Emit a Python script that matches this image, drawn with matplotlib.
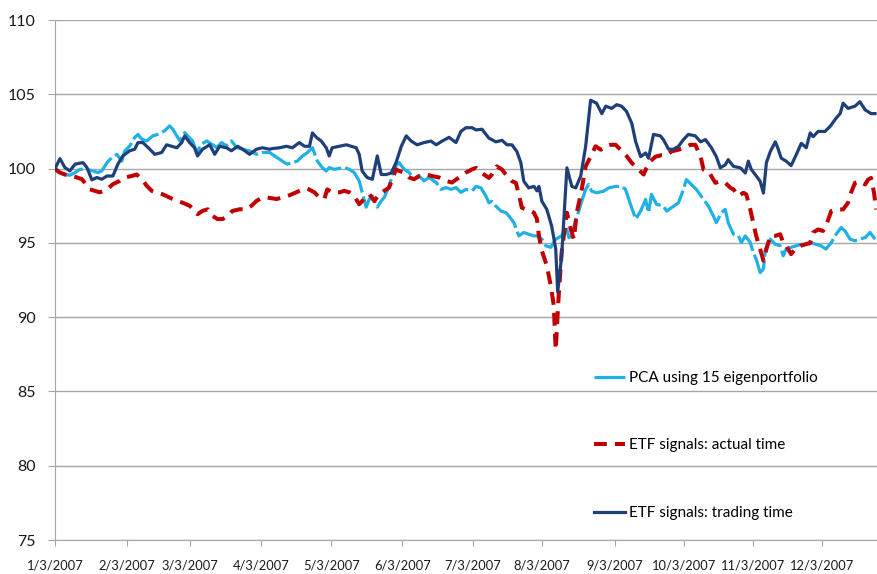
import matplotlib.pyplot as plt

# trading days since 1/3/2007 and index level
pca_days = [0, 1.5, 3.0, 4.5, 6.1, 7.6, 9.7, 11.5, 13.0, 14.2, 15.8, 17.3, 18.8, 20.3, 21.2,
            22.7, 24.2, 25.2, 26.4, 27.9, 29.7, 31.2, 33.3, 34.8, 35.8, 37.9, 39.4, 40.3, 41.8,
            43.0, 44.5, 46.1, 47.6, 49.1, 50.6, 52.1, 53.6, 55.2, 57.0, 59.1, 61.2, 63.0,
            65.2, 66.7, 68.2, 69.7, 70.6, 73.6, 75.2, 76.7, 78.2, 79.7, 81.2, 82.4, 83.3, 84.8,
            87.9, 89.4, 90.9, 92.4, 93.3, 94.5, 95.5, 96.4, 97.9, 99.1, 100.0, 101.5, 102.4,
            103.6, 104.5, 106.1, 107.6, 109.1, 110.6, 112.1, 113.6, 115.8, 117.3, 118.8, 120.3,
            121.8, 123.3, 124.8, 126.7,
            127.9, 129.4, 130.9, 131.8, 132.7, 133.9, 135.5, 137.0, 137.9, 139.4, 140.9, 142.4,
            143.9, 145.5, 146.4, 147.9, 149.1, 150.6, 152.1, 153.9, 155.2, 156.1, 157.0, 158.2,
            159.1, 160.0, 161.2, 162.1, 163.0, 164.5, 166.7, 168.2, 170.3, 172.1, 173.3, 174.8,
            176.4, 177.9, 179.4, 180.3, 181.2, 182.7,
            184.8, 185.8, 187.3, 189.4, 190.9, 191.8, 193.3, 194.8, 197.0, 198.5, 200.0, 200.9,
            202.4, 203.6, 204.5, 206.1, 207.6, 208.5, 209.7, 211.2, 212.1, 213.0, 214.2, 215.2,
            215.8, 217.3, 218.8, 220.3, 221.2, 222.1, 223.6, 225.2, 226.7, 228.2, 229.7, 231.2,
            232.7, 234.2, 235.8, 237.3, 238.8, 240.0, 241.5, 243.0, 244.5, 246.1, 247.6, 249.1]
pca_vals = [100.07, 99.73, 99.6, 99.55, 99.73, 99.95, 99.95, 99.84, 99.73, 99.84, 100.4, 100.74,
            100.96, 100.5, 101.19, 101.52, 102.09, 102.3, 101.97, 101.86, 102.2, 102.3, 102.54,
            102.87, 102.65, 101.86, 102.42, 102.2, 101.86, 101.08, 101.64, 101.86, 101.64, 101.41,
            101.75, 101.53, 101.86, 101.41, 101.3, 101.19, 100.96, 101.08,
            101.08, 100.85, 100.63, 100.4, 100.3, 100.5, 100.85, 101.08, 101.41, 100.5, 100.07,
            99.84, 100.07, 99.95, 100.07, 99.95, 99.73, 99.17, 98.4, 97.4, 97.95, 98.16, 97.4,
            97.82, 98.05, 98.83, 99.5, 100.18, 100.4, 99.95, 99.73, 99.28, 99.5, 99.17, 99.4,
            99.06, 98.6, 98.72, 98.6, 98.72, 98.4, 98.6, 98.5,
            98.8, 98.7, 98.15, 97.7, 97.8, 97.47, 97.14, 97.03, 96.8, 96.36, 95.47, 95.7, 95.58,
            95.47, 95.47, 95.25, 94.8, 94.7, 95.25, 95.47, 96.14, 95.35, 95.47, 96.6, 97.14, 97.8,
            98.6, 98.93, 98.48, 98.37, 98.48, 98.7, 98.8, 98.8, 98.6, 97.6, 96.6, 97.14, 97.92,
            97.03, 98.26, 97.6,
            97.47, 97.14, 97.37, 97.7, 98.6, 99.26, 98.93, 98.6, 97.92, 97.47, 96.8, 96.36, 97.03,
            97.25, 96.36, 95.58, 95.47, 95.02, 95.47, 95.02, 94.35, 93.9, 93.0, 93.24, 94.58,
            95.25, 94.9, 94.8, 94.13, 94.58, 94.7, 94.8, 94.9, 94.8, 95.0, 94.9, 94.8, 94.58,
            95.02, 95.58, 96.03, 95.8, 95.25, 95.14, 95.25, 95.36, 95.7, 95.25]

actual_days = [0, 1.5, 3.0, 5.2, 6.7, 8.2, 10.6, 12.1, 13.6, 15.8, 17.6, 19.7, 21.2, 23.3, 24.8,
               26.4, 27.9, 29.4, 30.9, 32.7, 34.8, 37.0, 38.8, 40.9, 42.4, 43.3, 44.8, 46.4, 47.9,
               49.4, 50.9, 52.4, 53.9, 56.1, 58.2, 59.7, 61.2, 63.0,
               64.5, 67.3, 69.1, 71.2, 73.3, 75.2, 76.7, 78.8, 80.3, 81.8, 82.7, 84.2, 86.4, 87.9,
               89.4, 90.9, 92.4, 93.9, 95.5, 97.0, 98.5, 100.0, 101.5, 102.4, 103.6, 104.5, 106.1,
               107.6, 109.1, 110.6, 112.7, 114.5, 116.7, 118.8, 120.6, 122.7, 124.8, 126.7,
               127.9, 129.7, 131.8, 132.7, 134.2, 135.8, 137.3, 138.8, 140.0, 140.9, 141.8, 143.0,
               144.5, 145.5, 146.4, 147.0, 147.9, 149.4, 150.6, 151.5, 152.1, 153.0, 153.9, 155.5,
               156.7, 157.6, 158.5, 160.0, 161.2, 162.7, 164.2, 165.8, 167.3, 168.8, 170.3, 171.8,
               173.3, 175.2, 177.3, 178.8, 179.7, 180.9, 182.4,
               184.2, 185.8, 187.3, 189.4, 190.9, 193.0, 194.5, 196.1, 197.0, 198.5, 200.6, 202.1,
               203.6, 205.2, 206.1, 207.6, 209.1, 210.0, 211.2, 212.1, 213.0, 214.2, 215.2, 216.1,
               217.3, 218.8, 220.3, 221.2, 222.1, 223.6, 224.8, 226.4, 227.9, 229.4, 230.3, 231.8,
               233.3, 234.2, 235.8, 237.9, 239.4, 240.9, 241.8, 243.0, 244.5, 246.1, 247.0, 247.9,
               248.8, 249.4]
actual_vals = [99.95, 99.73, 99.6, 99.5, 99.4, 99.28, 98.6, 98.5, 98.4, 98.6, 98.95, 99.17, 99.4,
               99.5, 99.6, 99.28, 98.83, 98.5, 98.4, 98.27, 98.05, 97.82, 97.7, 97.5, 97.15, 96.93,
               97.15, 97.26, 96.8, 96.6, 96.6, 96.8, 97.15, 97.26, 97.26, 97.5, 97.82, 98.05,
               98.05, 97.95, 98.05, 98.2, 98.4, 98.6, 98.65, 98.4, 98.05, 97.95, 98.6, 98.4, 98.4,
               98.5, 98.4, 98.15, 97.6, 97.95, 98.27, 97.82, 98.27, 98.5, 98.72, 99.28, 99.95,
               99.84, 99.73, 99.4, 99.28, 99.5, 99.6, 99.5, 99.4, 99.17, 99.06, 99.4, 99.73, 99.95,
               100.05, 99.7, 99.37, 99.6, 100.15, 99.93, 99.5, 99.15, 99.04, 98.26, 97.37, 97.25,
               97.14, 97.03, 96.6, 95.47, 94.46, 93.46, 92.12, 90.8, 87.8, 91.45, 94.35, 97.03,
               95.9, 95.25, 97.03, 98.6, 100.15, 100.8, 101.5, 101.27, 101.5, 101.6, 101.6, 101.27,
               100.94, 100.38, 99.93, 99.6, 100.05, 100.5, 100.8,
               100.9, 100.9, 101.16, 101.27, 101.38, 101.6, 101.6, 100.83, 99.93, 99.82, 99.04,
               99.15, 99.04, 98.7, 98.6, 98.15, 98.37, 98.26, 97.25, 96.36, 95.47, 94.58, 93.8,
               94.58, 95.47, 95.47, 95.58, 95.0, 94.8, 94.24, 94.58, 94.8, 94.9, 95.0, 95.7, 95.9,
               95.8, 96.14, 97.14, 97.25, 97.25, 97.7, 98.37, 99.04, 99.15, 98.93, 99.26, 99.37,
               98.37, 97.25]

trading_days = [0, 1.5, 3.0, 4.5, 6.1, 8.5, 9.7, 11.2, 12.7, 14.2, 15.8, 17.6, 19.1, 20.6, 22.7,
                24.2, 25.2, 26.7, 28.8, 30.3, 32.4, 33.9, 35.5, 37.0, 38.5, 39.4, 40.9, 42.4, 43.3,
                44.8, 47.0, 48.5, 50.0, 52.1, 53.6, 55.5, 57.0, 59.1, 61.2, 63.0, 65.2, 66.1, 68.2,
                70.3, 72.1, 74.2, 75.8, 77.3, 78.2, 79.4, 80.9, 82.4, 83.3, 84.2, 86.4, 88.5, 90.0,
                91.5, 92.4, 93.3, 94.8, 96.4, 97.9, 99.1, 100.6, 102.1, 103.6, 105.2, 106.7, 108.2,
                110.0, 112.1, 114.2, 115.8, 117.6, 119.7, 121.8, 123.3, 124.8, 126.7, 127.9, 129.7,
                131.8, 133.9, 135.8, 137.3, 138.8, 140.3, 141.5, 142.4, 143.9, 145.5, 146.4, 147.0,
                147.9, 149.4, 150.9, 152.1, 152.7, 153.9, 155.5, 157.0, 158.2, 159.7, 161.2, 162.7,
                164.5, 166.1, 167.3, 169.1, 170.6, 172.1, 173.6, 175.2, 176.4, 177.9, 179.4, 180.3,
                181.8, 183.9, 184.8, 186.4, 187.9, 189.4, 190.9, 192.4, 194.5, 196.1, 197.6, 199.4,
                200.9, 202.1, 203.6, 204.5, 206.1, 208.2, 209.7, 210.6, 211.5, 213.0, 214.2, 215.2,
                216.1, 217.3, 218.8, 219.7, 220.6, 222.1, 223.6, 225.2, 226.7, 228.2, 229.4, 230.3,
                231.8, 233.9, 235.5, 237.3, 238.5, 239.4, 240.9, 243.0, 244.5, 246.1, 247.9, 249.1]
trading_vals = [100.0, 100.67, 100.07, 99.84, 100.3, 100.4, 100.07, 99.24, 99.4, 99.28, 99.5, 99.5,
                100.3, 100.85, 101.2, 101.3, 101.75, 101.75, 101.3, 100.96, 101.08, 101.6, 101.5,
                101.4, 101.75, 102.2, 101.75, 101.4, 100.85, 101.3, 101.6, 100.96, 101.5, 101.4,
                101.2, 101.5, 101.3, 100.96, 101.3, 101.4, 101.3, 101.35, 101.4, 101.5, 101.4,
                101.75, 101.5, 101.5, 102.4, 102.1, 101.85, 101.4, 100.85, 101.4, 101.5, 101.6,
                101.5, 101.4, 100.96, 99.84, 99.4, 99.28, 100.85, 99.6, 99.6, 99.7, 100.4, 101.5,
                102.2, 101.85, 101.6, 101.75, 101.85, 101.6, 101.85, 102.1, 101.75, 102.5, 102.75,
                102.75, 102.6, 102.65, 102.05, 101.8, 101.9, 101.6, 101.6, 101.15, 100.4, 99.15,
                98.7, 98.8, 98.5, 98.8, 97.8, 97.25, 96.1, 94.6, 91.7, 94.1, 100.05, 98.8, 98.7,
                99.5, 101.5, 104.6, 104.4, 103.7, 104.2, 104.05, 104.3, 104.2, 103.85, 103.05,
                101.8, 100.8, 101.05, 100.7, 102.3, 102.2, 101.95, 101.3, 101.3, 101.5, 101.95,
                102.3, 102.2, 101.8, 101.95, 101.4, 100.8, 100.05, 100.25, 100.6, 100.15, 100.05,
                99.7, 100.5, 99.95, 99.5, 99.15, 98.35, 100.4, 101.15, 101.8, 101.3, 100.7, 100.5,
                100.2, 100.95, 101.7, 101.4, 102.4, 102.15, 102.5, 102.5, 102.85, 103.4, 103.7,
                104.4, 104.05, 104.2, 104.5, 103.95, 103.7, 103.7]

month_ticks = [0, 21.8, 40.9, 62.7, 83.9, 105.5, 127.0, 148.0, 170.0, 191.0, 212.0, 233.0]
month_labels = ["1/3/2007", "2/3/2007", "3/3/2007", "4/3/2007", "5/3/2007", "6/3/2007",
                "7/3/2007", "8/3/2007", "9/3/2007", "10/3/2007", "11/3/2007", "12/3/2007"]

assert len(pca_days) == len(pca_vals)
assert len(actual_days) == len(actual_vals)
assert len(trading_days) == len(trading_vals)

plt.rcParams['font.family'] = ['Lato', 'DejaVu Sans']

fig = plt.figure(figsize=(8.78, 5.74), dpi=100)
ax = fig.add_axes([55 / 878, 34 / 574, 823 / 878, 520 / 574])

ax.plot(pca_days, pca_vals, color='#1fb0e6', lw=2.3, dashes=(10, 1.3),
        label='PCA using 15 eigenportfolio', zorder=2)
ax.plot(actual_days, actual_vals, color='#c00000', lw=2.9, dashes=(3.2, 2.0),
        label='ETF signals: actual time', zorder=3)
ax.plot(trading_days, trading_vals, color='#1f3f78', lw=2.3,
        label='ETF signals: trading time', zorder=4)

ax.set_xlim(0, 250)
ax.set_ylim(75, 110)
ax.set_yticks(range(75, 111, 5))
ax.grid(axis='y', color='#a6a6a6', lw=1)
ax.set_axisbelow(True)

ax.set_xticks(month_ticks)
ax.set_xticklabels(month_labels)
ax.tick_params(axis='x', length=4, color='#a6a6a6', labelsize=9.3, pad=10, labelcolor='#1a1a1a')
ax.tick_params(axis='y', length=5, color='#a6a6a6', labelsize=11.5, pad=9, labelcolor='#1a1a1a')

for side in ['top', 'right']:
    ax.spines[side].set_visible(False)
for side in ['left', 'bottom']:
    ax.spines[side].set_color('#a6a6a6')

fig.legend(loc='upper left', bbox_to_anchor=(594 / 878, 1 - 371 / 574),
           frameon=False, fontsize=11, handlelength=2.0, handletextpad=0.3,
           labelspacing=3.5, borderpad=0, borderaxespad=0)

plt.savefig('out.png', dpi=100)
